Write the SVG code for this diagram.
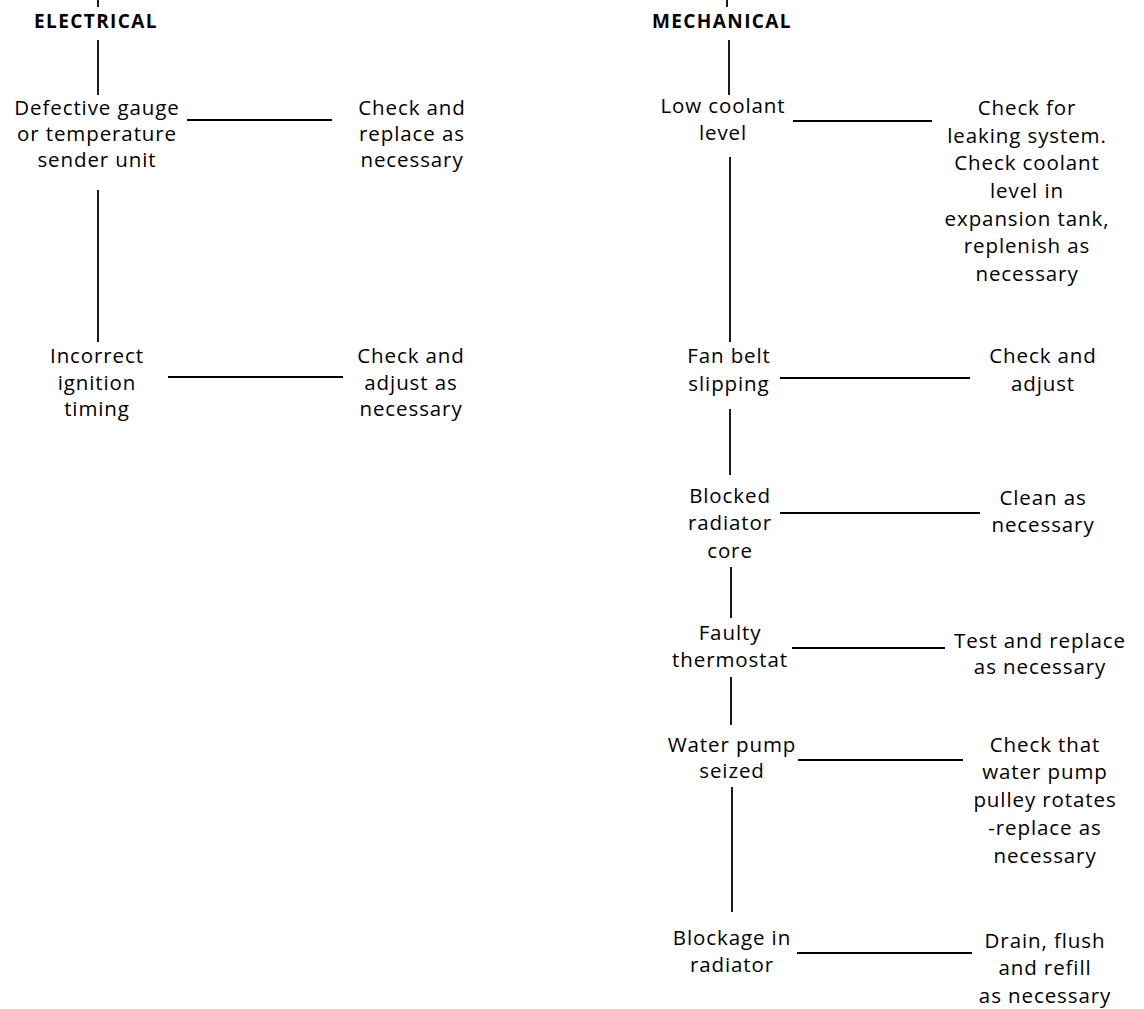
<svg xmlns="http://www.w3.org/2000/svg" width="1144" height="1009" viewBox="0 0 1144 1009">
<style>
  text { font-family: "Open Sans", "Liberation Sans", sans-serif; font-size: 20.5px; fill: #000; text-anchor: middle; letter-spacing: 0.9px; }
  .hd { font-weight: bold; font-size: 19px; letter-spacing: 1.4px; }
  .ln { stroke: #000; stroke-width: 1.8; fill: none; }
</style>
<rect x="0" y="0" width="1144" height="1009" fill="#fff"/>
<g id="connectors">
  <line class="ln" x1="98" y1="0" x2="98" y2="7"/>
  <line class="ln" x1="98" y1="40" x2="98" y2="95"/>
  <line class="ln" x1="187" y1="120" x2="332" y2="120"/>
  <line class="ln" x1="98" y1="190" x2="98" y2="342"/>
  <line class="ln" x1="168" y1="377" x2="343" y2="377"/>
  <line class="ln" x1="727" y1="0" x2="727" y2="7"/>
  <line class="ln" x1="729" y1="40" x2="729" y2="95"/>
  <line class="ln" x1="793" y1="121" x2="932" y2="121"/>
  <line class="ln" x1="730" y1="157" x2="730" y2="342"/>
  <line class="ln" x1="780" y1="378" x2="970" y2="378"/>
  <line class="ln" x1="730" y1="409" x2="730" y2="475"/>
  <line class="ln" x1="780" y1="513" x2="980" y2="513"/>
  <line class="ln" x1="731" y1="567" x2="731" y2="618"/>
  <line class="ln" x1="792" y1="648" x2="945" y2="648"/>
  <line class="ln" x1="731" y1="677" x2="731" y2="725"/>
  <line class="ln" x1="798" y1="760" x2="963" y2="760"/>
  <line class="ln" x1="732" y1="787" x2="732" y2="912"/>
  <line class="ln" x1="797" y1="953" x2="972" y2="953"/>
</g>
<g id="electrical"><text class="hd" x="96" y="28">ELECTRICAL</text></g>
<g id="mechanical"><text class="hd" x="722" y="28">MECHANICAL</text></g>
<g id="defective-gauge">
  <text x="97" y="115">Defective gauge</text>
  <text x="97" y="141">or temperature</text>
  <text x="97" y="167">sender unit</text>
</g>
<g id="check-replace">
  <text x="412" y="115">Check and</text>
  <text x="412" y="141">replace as</text>
  <text x="412" y="167">necessary</text>
</g>
<g id="incorrect-timing">
  <text x="97" y="363">Incorrect</text>
  <text x="97" y="390">ignition</text>
  <text x="97" y="416">timing</text>
</g>
<g id="check-adjust-left">
  <text x="411" y="363">Check and</text>
  <text x="411" y="390">adjust as</text>
  <text x="411" y="416">necessary</text>
</g>
<g id="low-coolant">
  <text x="723" y="113">Low coolant</text>
  <text x="723" y="140">level</text>
</g>
<g id="check-leaking">
  <text x="1027" y="115">Check for</text>
  <text x="1027" y="143">leaking system.</text>
  <text x="1027" y="170">Check coolant</text>
  <text x="1027" y="198">level in</text>
  <text x="1027" y="226">expansion tank,</text>
  <text x="1027" y="253">replenish as</text>
  <text x="1027" y="281">necessary</text>
</g>
<g id="fan-belt">
  <text x="729" y="363">Fan belt</text>
  <text x="729" y="391">slipping</text>
</g>
<g id="check-adjust-right">
  <text x="1043" y="363">Check and</text>
  <text x="1043" y="391">adjust</text>
</g>
<g id="blocked-core">
  <text x="730" y="503">Blocked</text>
  <text x="730" y="530">radiator</text>
  <text x="730" y="558">core</text>
</g>
<g id="clean">
  <text x="1043" y="505">Clean as</text>
  <text x="1043" y="532">necessary</text>
</g>
<g id="faulty-thermostat">
  <text x="730" y="640">Faulty</text>
  <text x="730" y="667">thermostat</text>
</g>
<g id="test-replace">
  <text x="1040" y="648">Test and replace</text>
  <text x="1040" y="674">as necessary</text>
</g>
<g id="water-pump">
  <text x="732" y="752">Water pump</text>
  <text x="732" y="778">seized</text>
</g>
<g id="check-pulley">
  <text x="1045" y="752">Check that</text>
  <text x="1045" y="779">water pump</text>
  <text x="1045" y="807">pulley rotates</text>
  <text x="1045" y="835">-replace as</text>
  <text x="1045" y="863">necessary</text>
</g>
<g id="blockage">
  <text x="732" y="945">Blockage in</text>
  <text x="732" y="972">radiator</text>
</g>
<g id="drain-flush">
  <text x="1045" y="948">Drain, flush</text>
  <text x="1045" y="975">and refill</text>
  <text x="1045" y="1003">as necessary</text>
</g>
</svg>
